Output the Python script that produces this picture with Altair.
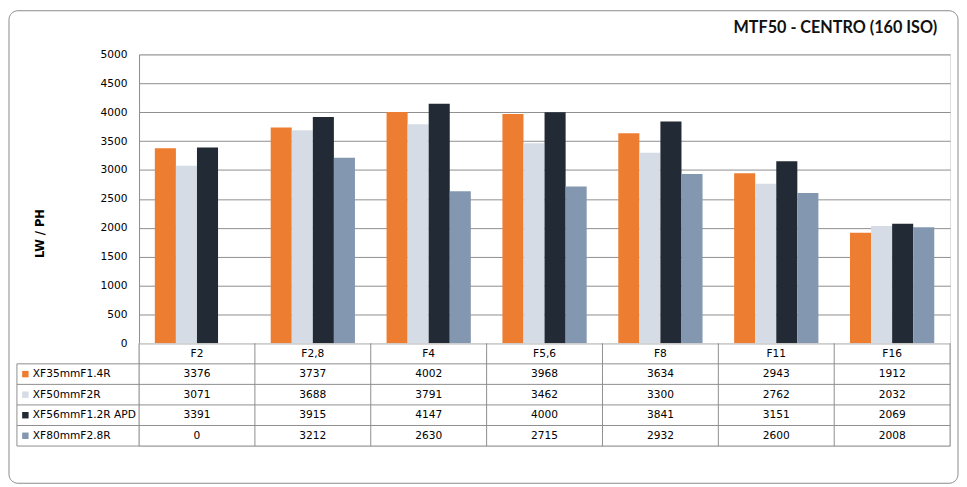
import altair as alt
import pandas as pd

categories = ["F2", "F2,8", "F4", "F5,6", "F8", "F11", "F16"]
series = ["XF35mmF1.4R", "XF50mmF2R", "XF56mmF1.2R APD", "XF80mmF2.8R"]
xf35 = [3376, 3737, 4002, 3968, 3634, 2943, 1912]
xf50 = [3071, 3688, 3791, 3462, 3300, 2762, 2032]
xf56 = [3391, 3915, 4147, 4000, 3841, 3151, 2069]
xf80 = [0, 3212, 2630, 2715, 2932, 2600, 2008]
colors = ["#ED7D31", "#D6DCE5", "#222A35", "#8497B0"]
y_ticks = [0, 500, 1000, 1500, 2000, 2500, 3000, 3500, 4000, 4500, 5000]
title_text = "MTF50 - CENTRO (160 ISO)"
y_title = "LW / PH"

W, H = 817, 291
ROW = 20.7
TH = ROW * 5
LINE = "#8E8E8E"
FONT = "DejaVu Sans"
FS = 10.7

rows = []
for si, (name, vals) in enumerate(zip(series, [xf35, xf50, xf56, xf80])):
    for c, v in zip(categories, vals):
        rows.append({"cat": c, "series": name, "value": v, "row": si + 1.5})
df = pd.DataFrame(rows)
ser_df = pd.DataFrame({"series": series, "row": [i + 1.5 for i in range(len(series))]})
hdr_df = pd.DataFrame({"cat": categories, "row": [0.5] * len(categories)})
hline_df = pd.DataFrame({"b": [1, 2, 3, 4, 5]})

xscale = alt.Scale(domain=categories, paddingInner=0, paddingOuter=0)
cscale = alt.Scale(domain=series, range=colors)

bars = alt.Chart(df).mark_bar().encode(
    x=alt.X("cat:N", sort=categories, scale=xscale, axis=None),
    xOffset=alt.XOffset("series:N", sort=series,
                        scale=alt.Scale(domain=series, paddingInner=0, paddingOuter=0.75)),
    y=alt.Y("value:Q", scale=alt.Scale(domain=[0, 5000], nice=False),
            axis=alt.Axis(values=y_ticks, format="d", title=y_title, grid=True, gridColor=LINE,
                          domainColor=LINE, ticks=False, labelPadding=12,
                          labelFont=FONT, labelFontSize=FS, labelColor="#000000",
                          titleFont=FONT, titleFontSize=11.5, titleFontWeight="bold",
                          titleColor="#000000", titleX=-99, titleY=180,
                          titleAlign="center", titleBaseline="middle")),
    color=alt.Color("series:N", scale=cscale, legend=None),
)

frame = alt.Chart(pd.DataFrame({"k": [0]})).mark_rect(
    fill="transparent", stroke="#8A8A8A", strokeWidth=1, cornerRadius=9
).encode(x=alt.value(-131), x2=alt.value(825), y=alt.value(-44), y2=alt.value(432))

title = alt.Chart(pd.DataFrame({"t": [title_text]})).mark_text(
    font="Lato", fontSize=16.3, fontWeight="bold", align="right", baseline="middle", color="#111111"
).encode(x=alt.value(804), y=alt.value(-27), text="t:N")

top = alt.layer(frame, bars, title).properties(width=W, height=H)

yq = alt.Scale(domain=[0, 5], reverse=True, nice=False)

vlines = alt.Chart(hdr_df).mark_rule(color=LINE, strokeWidth=1).encode(
    x=alt.X("cat:N", sort=categories, scale=xscale, axis=None, bandPosition=0),
    y=alt.value(0), y2=alt.value(TH),
)
rline = alt.Chart(pd.DataFrame({"k": [0]})).mark_rule(color=LINE, strokeWidth=1).encode(
    x=alt.value(W), y=alt.value(0), y2=alt.value(TH))
lline = alt.Chart(pd.DataFrame({"k": [0]})).mark_rule(color=LINE, strokeWidth=1).encode(
    x=alt.value(-123), y=alt.value(ROW), y2=alt.value(TH))
hlines = alt.Chart(hline_df).mark_rule(color=LINE, strokeWidth=1).encode(
    y=alt.Y("b:Q", scale=yq, axis=None), x=alt.value(-123), x2=alt.value(W))
hdr = alt.Chart(hdr_df).mark_text(font=FONT, fontSize=FS, color="#000000").encode(
    x=alt.X("cat:N", sort=categories, scale=xscale, axis=None),
    y=alt.Y("row:Q", scale=yq, axis=None), text="cat:N")
vals = alt.Chart(df).mark_text(font=FONT, fontSize=FS, color="#000000").encode(
    x=alt.X("cat:N", sort=categories, scale=xscale, axis=None),
    y=alt.Y("row:Q", scale=yq, axis=None), text="value:Q")
squares = alt.Chart(ser_df).mark_square(size=42, opacity=1).encode(
    x=alt.value(-114.5), y=alt.Y("row:Q", scale=yq, axis=None),
    color=alt.Color("series:N", scale=cscale, legend=None))
names = alt.Chart(ser_df).mark_text(font=FONT, fontSize=FS, color="#000000", align="left").encode(
    x=alt.value(-107), y=alt.Y("row:Q", scale=yq, axis=None), text="series:N")

table = alt.layer(hlines, vlines, rline, lline, hdr, vals, squares, names).properties(width=W, height=TH)

chart = alt.vconcat(top, table, spacing=0, bounds="flush").properties(
    padding={"left": 0, "top": 0, "right": 0, "bottom": 0}
).configure_view(stroke=None).configure(background="white")

chart.save("out.html", embed_options={"renderer": "svg", "actions": False})
